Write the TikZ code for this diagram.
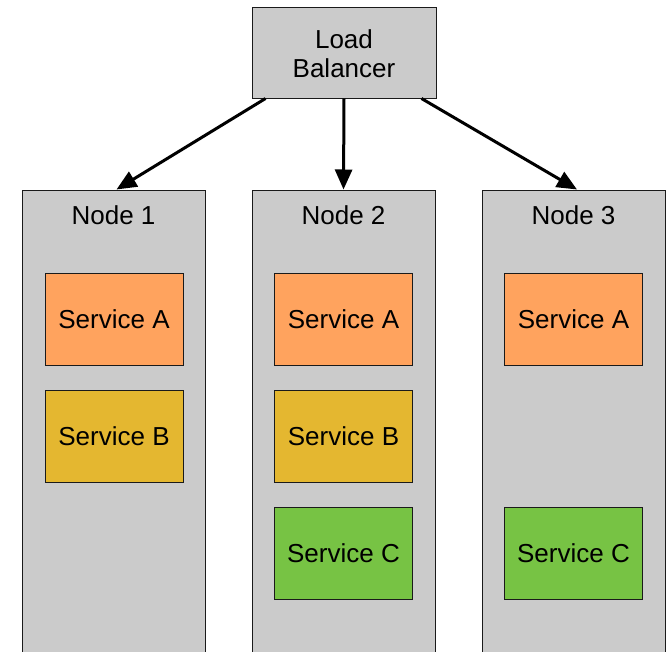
\documentclass[tikz,border=0pt]{standalone}
\usepackage{fontspec}
\setmainfont{Liberation Sans}
\usetikzlibrary{arrows.meta}
\definecolor{boxgray}{HTML}{CBCBCB}
\definecolor{svcA}{HTML}{FFA35E}
\definecolor{svcB}{HTML}{E4B730}
\definecolor{svcC}{HTML}{77C344}
\definecolor{edge}{HTML}{1A1A1A}
\tikzset{
  x=1pt, y=-1pt,
  txt/.style={font=\fontsize{26}{29}\selectfont, text=black},
  hostbox/.style={draw=edge, line width=1pt, fill=boxgray, minimum width=183pt, minimum height=480pt, inner sep=0pt},
  lbbox/.style={draw=edge, line width=1pt, fill=boxgray, minimum width=184pt, minimum height=91pt, inner sep=0pt},
  svc/.style={draw=edge, line width=1pt, minimum width=138pt, minimum height=92pt, inner sep=0pt, txt},
  label/.style={txt, inner sep=0pt, align=center},
  arr/.style={line width=3pt, draw=black, -{Triangle[length=20pt,width=17pt]}}
}
\begin{document}
\begin{tikzpicture}
\useasboundingbox (0,0) rectangle (667,651);
\clip (0,0) rectangle (667,651);

% load balancer
\node[lbbox] (lb) at (344,52.5) {};
\node[label] (lbtext) at (344,54) {Load\\Balancer};

% host columns (running off the bottom edge)
\node[hostbox] (n1) at (113.5,430) {};
\node[hostbox] (n2) at (343.5,430) {};
\node[hostbox] (n3) at (573.5,430) {};

\node[label] (t1) at (113.5,215) {Node 1};
\node[label] (t2) at (343.5,215) {Node 2};
\node[label] (t3) at (573.5,215) {Node 3};

% services
\node[svc, fill=svcA] (a1) at (114,319) {Service A};
\node[svc, fill=svcB] (b1) at (114,436) {Service B};

\node[svc, fill=svcA] (a2) at (343.5,319) {Service A};
\node[svc, fill=svcB] (b2) at (343.5,436) {Service B};
\node[svc, fill=svcC] (c2) at (343.5,553) {Service C};

\node[svc, fill=svcA] (a3) at (573.5,319) {Service A};
\node[svc, fill=svcC] (c3) at (573.5,553) {Service C};

% traffic from the balancer to each host
\draw[arr] ([xshift=14pt]lb.south west) -- ([xshift=3pt]n1.north);
\draw[arr] (lb.south) -- (n2.north);
\draw[arr] ([xshift=-15pt]lb.south east) -- ([xshift=3.5pt]n3.north);
\end{tikzpicture}
\end{document}
